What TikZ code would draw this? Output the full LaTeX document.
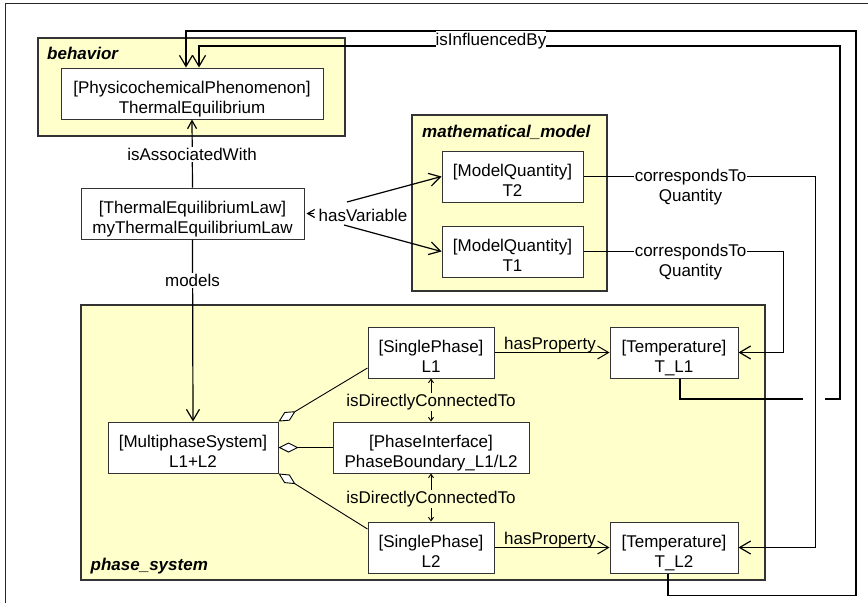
\documentclass[tikz,border=0pt]{standalone}
\usepackage{fontspec}
\setmainfont{Liberation Sans}
\usetikzlibrary{arrows.meta,calc}
\definecolor{pkgfill}{HTML}{FFFFCC}
\definecolor{pkgline}{HTML}{333333}
\newcommand{\mytwo}[2]{\begin{tabular}[t]{@{}c@{}}#1\\#2\end{tabular}}
\begin{document}
\begin{tikzpicture}[x=1pt,y=-1pt,
  every node/.style={font=\fontsize{17}{20}\selectfont},
  box/.style={draw=black!80,line width=1pt,fill=white,inner sep=0pt,minimum height=51pt,text height=9.5pt,text depth=9.5pt},
  pkg/.style={draw=pkgline,line width=1.4pt,fill=pkgfill},
  pkglabel/.style={anchor=base west,inner sep=0pt,font=\fontsize{17}{20}\selectfont\bfseries\itshape},
  conn/.style={line width=1.2pt,black},
  arr/.style={-{Straight Barb[length=11pt,width=13pt]}},
  arrs/.style={-{Straight Barb[length=8pt,width=9pt]}},
  smallarr/.style={{Straight Barb[length=3.5pt,width=5pt]}-{Straight Barb[length=3.5pt,width=5pt]}},
  agg/.style={{Diamond[length=20pt,width=10pt,fill=white]}-,line width=0.9pt,black},
  lbl/.style={inner sep=1pt,anchor=base}
]
\useasboundingbox (0,0) rectangle (868,603);
% outer frame
\draw[line width=1.5pt,black!85] (5.5,603) -- (5.5,3.5) -- (868,3.5);

% packages
\draw[pkg] (38,38) rectangle (345,136);
\node[pkglabel] (pbeh) at (47,59.5) {behavior};
\draw[pkg] (412,115) rectangle (607,291);
\node[pkglabel] (pmath) at (422,137) {mathematical\_model};
\draw[pkg] (81,305) rectangle (765,580);
\node[pkglabel] (pphase) at (90.5,570.5) {phase\_system};

% boxes
\node[box,minimum width=262pt] (te) at (192,93.5) {\mytwo{[PhysicochemicalPhenomenon]}{ThermalEquilibrium}};
\node[box,minimum width=223pt] (law) at (192.5,213.5) {\mytwo{[ThermalEquilibriumLaw]}{myThermalEquilibriumLaw}};
\node[box,minimum width=141pt] (t2) at (512.5,176.5) {\mytwo{[ModelQuantity]}{T2}};
\node[box,minimum width=141pt] (t1) at (512.5,251.5) {\mytwo{[ModelQuantity]}{T1}};
\node[box,minimum width=170pt] (ms) at (193,447.5) {\mytwo{[MultiphaseSystem]}{L1+L2}};
\node[box,minimum width=126pt] (l1) at (431,352.5) {\mytwo{[SinglePhase]}{L1}};
\node[box,minimum width=196pt] (pi) at (431,447.5) {\mytwo{[PhaseInterface]}{PhaseBoundary\_L1/L2}};
\node[box,minimum width=126pt] (l2) at (431,547.5) {\mytwo{[SinglePhase]}{L2}};
\node[box,minimum width=128pt] (tl1) at (674,352.5) {\mytwo{[Temperature]}{T\_L1}};
\node[box,minimum width=128pt] (tl2) at (674,547.5) {\mytwo{[Temperature]}{T\_L2}};

% isAssociatedWith
\draw[conn,arrs] (law.north) -- (te.south);
\node[lbl,fill=white] (lassoc) at (192,160.5) {isAssociatedWith};
% models
\draw[conn,arr] (law.south) -- (ms.north);
\node[lbl,fill=white] (lmodels) at (192.5,286.5) {models};

% hasVariable
\node[lbl] (hv) at (363,221.3) {hasVariable};
\coordinate (hvA) at (347,202);
\coordinate (hvB) at (344,225);
\coordinate (hvC) at (314,213.5);
\draw[conn,arr] (hvA) -- (t2.west);
\draw[conn,arr] (hvB) -- (t1.west);
\draw[conn,-{Straight Barb[length=7pt,width=8pt]}] (hvC) -- ([xshift=2pt]law.east);

% correspondsTo
\draw[conn,arr] (t2.east) -| ($(tl2.east)+(77,0)$) -- (tl2.east);
\draw[conn,arr] (t1.east) -| ($(tl1.east)+(45,0)$) -- (tl1.east);
\node[lbl,fill=white] (cq2) at (690.5,181.7) {\mytwo{correspondsTo}{Quantity}};
\node[lbl,fill=white] (cq1) at (690.5,256) {\mytwo{correspondsTo}{Quantity}};

% isInfluencedBy
\draw[conn,arr] ([xshift=-6pt]tl2.south) -- ++(0,22) -| (856,31) -| ([xshift=-6pt]te.north);
\draw[conn] ([xshift=6pt]tl1.south) |- (803,399);
\draw[conn,arr] (825,399) -| (840,46) -| ([xshift=7pt]te.north);
\node[lbl,fill=white,inner sep=0pt,text height=14.5pt,text depth=2pt] (linf) at (491,45) {isInfluencedBy};

% hasProperty
\draw[conn,line width=1pt,arr] (l1.east) -- (tl1.west);
\node[lbl,inner sep=0pt] (hp1) at (550,349) {hasProperty};
\draw[conn,line width=1pt,arr] (l2.east) -- (tl2.west);
\node[lbl,inner sep=0pt] (hp2) at (550,544) {hasProperty};

% isDirectlyConnectedTo
\draw[conn,line width=0.9pt,smallarr] (l1.south) -- (pi.north);
\node[lbl,fill=pkgfill] (dc1) at (431,406.5) {isDirectlyConnectedTo};
\draw[conn,line width=0.9pt,smallarr] (pi.south) -- (l2.north);
\node[lbl,fill=pkgfill] (dc2) at (431,503.3) {isDirectlyConnectedTo};

% aggregations
\draw[agg] (ms.north east) -- ([yshift=-15.5pt]l1.west);
\draw[agg] (ms.east) -- (pi.west);
\draw[agg] (ms.south east) -- ([yshift=18.5pt]l2.west);
\end{tikzpicture}
\end{document}
